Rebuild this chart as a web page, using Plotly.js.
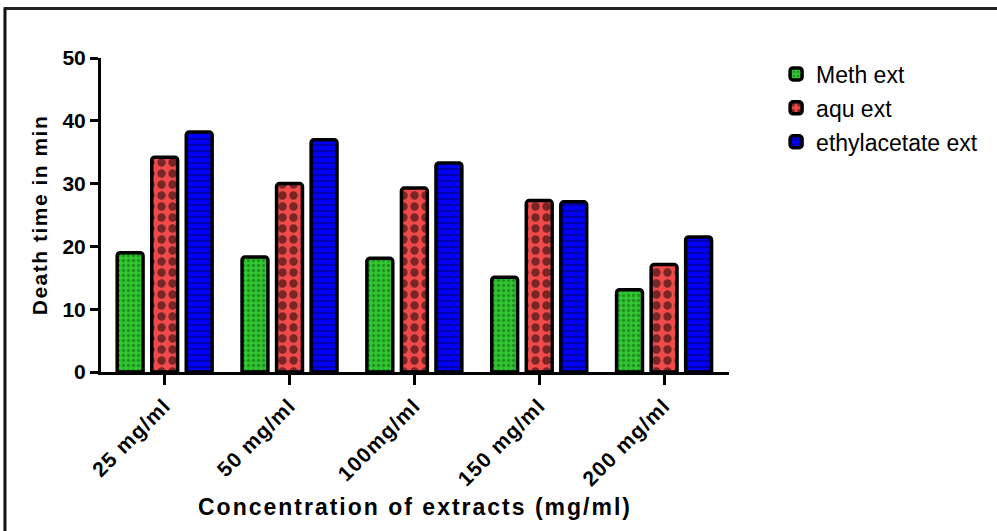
<!DOCTYPE html>
<html>
<head>
<meta charset="utf-8">
<script src="https://cdn.plot.ly/plotly-3.0.1.min.js"></script>
<style>
html,body{margin:0;padding:0;background:#fff;}
#chart{width:997px;height:531px;}
#chart .xtitle{letter-spacing:2px;}
#chart .ytitle{letter-spacing:1.5px;}
#chart .xtick text{letter-spacing:1.2px;}
</style>
</head>
<body>
<div id="chart"></div>
<script>
var categories = ["25 mg/ml", "50 mg/ml", "100mg/ml", "150 mg/ml", "200 mg/ml"];
var methExt = [19.0, 18.3, 18.1, 15.1, 13.1];
var aquExt = [34.2, 30.0, 29.3, 27.3, 17.1];
var ethylExt = [38.2, 37.0, 33.3, 27.1, 21.5];
var seriesNames = ["Meth ext", "aqu ext", "ethylacetate ext"];
var yTicks = [0, 10, 20, 30, 40, 50];

var FONT = "Arial, 'Liberation Sans', sans-serif";

function barTrace(name, vals, pattern, group) {
  return {
    type: "bar",
    name: name,
    x: categories,
    y: vals,
    legendgroup: group,
    marker: {
      color: pattern.bgcolor,
      line: {color: "#000", width: 3.5},
      cornerradius: 3,
      pattern: pattern
    }
  };
}

var data = [
  barTrace(seriesNames[0], methExt, {shape: ".", bgcolor: "#33c633", fgcolor: "#0b5e0b", size: 5, solidity: 0.35, fillmode: "overlay"}, "g1"),
  barTrace(seriesNames[1], aquExt, {shape: ".", bgcolor: "#f04a4a", fgcolor: "#000000", size: 11, solidity: 0.45, fillmode: "overlay"}, "g2"),
  barTrace(seriesNames[2], ethylExt, {shape: "-", bgcolor: "#0000f5", fgcolor: "#000033", size: 6, solidity: 0.25, fillmode: "overlay"}, "g3")
];

var layout = {
  width: 997,
  height: 531,
  paper_bgcolor: "#fff",
  plot_bgcolor: "#fff",
  margin: {l: 101, r: 268, t: 58, b: 159},
  barmode: "group",
  bargap: 0.17,
  bargroupgap: 0.25,
  font: {family: FONT, color: "#000"},
  showlegend: true,
  legend: {
    x: 1.075, y: 1.0175, xanchor: "left", yanchor: "top",
    font: {family: FONT, size: 23, color: "#000"},
    traceorder: "grouped",
    tracegroupgap: 1,
    bgcolor: "rgba(0,0,0,0)"
  },
  xaxis: {
    type: "category",
    range: [-0.51, 4.52],
    showline: true, linecolor: "#000", linewidth: 3,
    ticks: "outside", ticklen: 10, tickwidth: 3, tickcolor: "#000",
    tickangle: -45,
    tickfont: {family: FONT, size: 21, color: "#000", weight: "bold"},
    showgrid: false, zeroline: false,
    automargin: false,
    title: {text: "<b>Concentration of extracts (mg/ml)</b>", font: {family: FONT, size: 23, color: "#000"}, standoff: 18}
  },
  yaxis: {
    range: [0, 50],
    tickvals: yTicks,
    showline: true, linecolor: "#000", linewidth: 3,
    ticks: "outside", ticklen: 8, tickwidth: 3, tickcolor: "#000",
    tickfont: {family: FONT, size: 21, color: "#000", weight: "bold"},
    showgrid: false, zeroline: false,
    automargin: false,
    title: {text: "<b>Death time in min</b>", font: {family: FONT, size: 21, color: "#000"}, standoff: 10}
  },
  shapes: [
    {type: "line", xref: "paper", yref: "paper", x0: -0.155, x1: 1.43, y0: 1.1576, y1: 1.1576, line: {color: "#222", width: 3}},
    {type: "line", xref: "paper", yref: "paper", x0: -0.1529, x1: -0.1529, y0: 1.1576, y1: -0.52, line: {color: "#111", width: 3}}
  ]
};

Plotly.newPlot("chart", data, layout, {displayModeBar: false, staticPlot: true});
</script>
</body>
</html>
